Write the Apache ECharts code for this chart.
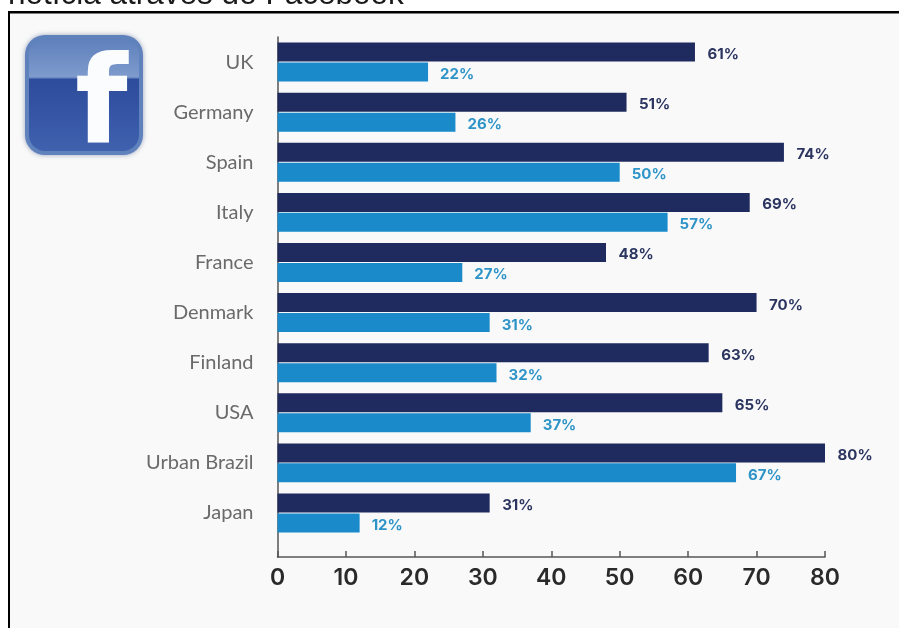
<!DOCTYPE html>
<html>
<head>
<meta charset="utf-8">
<style>html,body{margin:0;padding:0;background:#fff}#chart{width:899px;height:628px}</style>
<script src="https://cdn.jsdelivr.net/npm/echarts@6/dist/echarts.min.js"></script>
</head>
<body>
<div id="chart"></div>
<script>
const countries = ['UK','Germany','Spain','Italy','France','Denmark','Finland','USA','Urban Brazil','Japan'];
const darkValues = [61,51,74,69,48,70,63,65,80,31];
const lightValues = [22,26,50,57,27,31,32,37,67,12];
const heading = 'notícia através do Facebook';
const DARK = '#1f2a5e', LIGHT = '#1a8acb';

const chart = echarts.init(document.getElementById('chart'), null, {renderer:'canvas'});

const barLabel = (color, distance) => ({
  show:true, position:'right', distance, offset:[0,2.5], formatter:'{c}%',
  color, fontFamily:'Inter', fontWeight:700, fontSize:15
});

chart.setOption({
  animation:false,
  backgroundColor:'#ffffff',
  graphic:[
    {type:'text', x:8, y:-21, z:10, style:{text:heading, font:'31.5px "Liberation Sans"', fill:'#1a1a1a'}},
    // page panel with its heavy top and left rules
    {type:'rect', z:-10, shape:{x:10,y:13,width:889,height:615}, style:{fill:'#f9f9f9'}},
    {type:'rect', z:-9, shape:{x:8,y:11,width:891,height:2.5}, style:{fill:'#000'}},
    {type:'rect', z:-9, shape:{x:8,y:11,width:2,height:617}, style:{fill:'#000'}},
    // Facebook badge
    {type:'rect', z:1, shape:{x:25,y:35,width:118,height:120,r:20},
      style:{fill:'#5f82bd', shadowBlur:5, shadowColor:'rgba(60,80,130,0.5)'}},
    {type:'rect', z:2, shape:{x:29,y:39,width:110,height:112,r:16},
      style:{fill:{type:'linear',x:0,y:0,x2:0,y2:1,colorStops:[
        {offset:0,color:'#5e80bc'},{offset:0.34,color:'#7f9bcd'},{offset:0.36,color:'#2d4c9c'},{offset:1,color:'#3f61ae'}]}}},
    {type:'text', z:3, x:75, y:50, style:{text:'f', font:'bold 121px "DejaVu Sans"', fill:'#fbfcfe'}}
  ],
  grid:[
    {left:277.5, top:37, width:547.5, height:501},
    {left:277.5, top:37, width:547.5, height:520}
  ],
  xAxis:[
    {gridIndex:0, type:'value', min:0, max:80, show:false},
    {gridIndex:1, type:'value', min:0, max:80, interval:10,
      axisLine:{show:true, onZero:false, lineStyle:{color:'#555',width:1.5}},
      axisTick:{show:true, inside:true, length:6, lineStyle:{color:'#555',width:1.5}},
      splitLine:{show:false},
      axisLabel:{margin:10, color:'#2a2a2a', fontFamily:'Inter', fontWeight:600, fontSize:23}}
  ],
  yAxis:[
    {gridIndex:0, type:'category', inverse:true, data:countries,
      axisLine:{show:false}, axisTick:{show:false},
      axisLabel:{margin:24, color:'#6a6a6a', fontFamily:'Lato', fontSize:20}},
    {gridIndex:1, type:'value', min:0, max:1,
      axisLine:{show:true, onZero:false, lineStyle:{color:'#555',width:1.5}},
      axisTick:{show:false}, axisLabel:{show:false}, splitLine:{show:false}}
  ],
  series:[
    {type:'bar', xAxisIndex:0, yAxisIndex:0, data:darkValues, barWidth:19, barGap:'5%',
      itemStyle:{color:DARK}, label:barLabel('#2b3560', 12.5)},
    {type:'bar', xAxisIndex:0, yAxisIndex:0, data:lightValues, barWidth:19, barGap:'5%',
      itemStyle:{color:LIGHT}, label:barLabel('#2e94c8', 12)}
  ]
});
</script>
</body>
</html>
